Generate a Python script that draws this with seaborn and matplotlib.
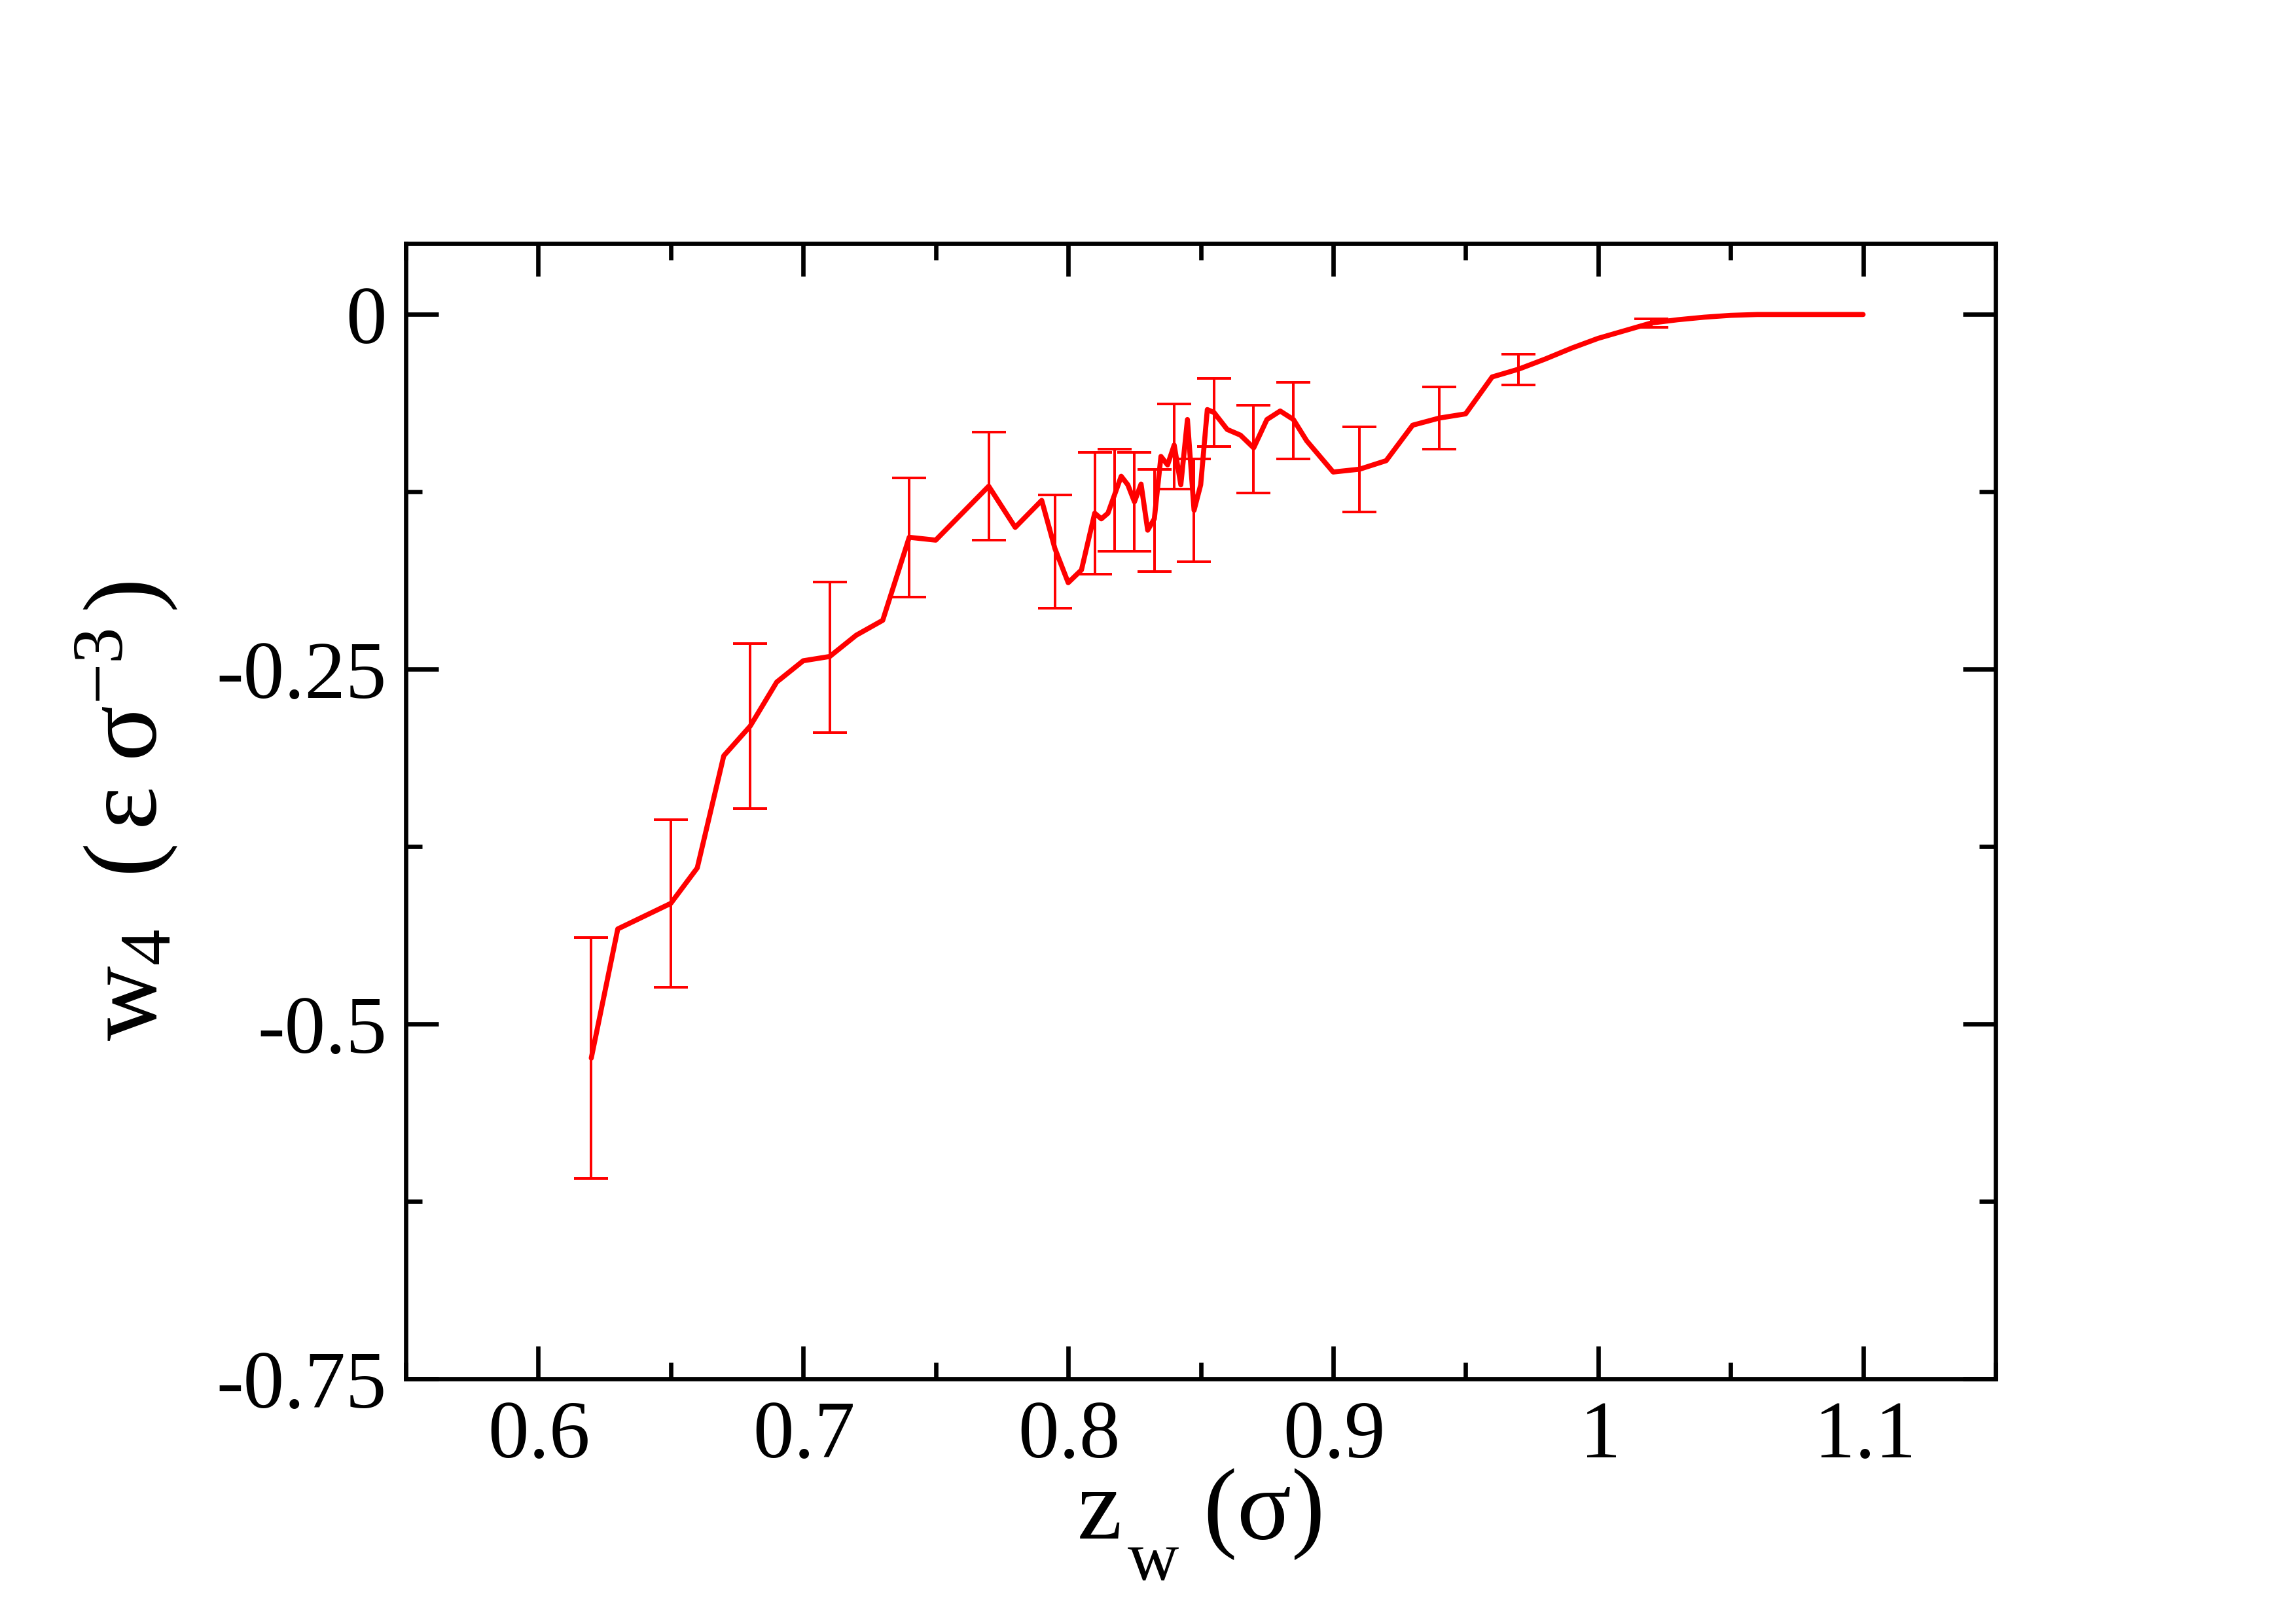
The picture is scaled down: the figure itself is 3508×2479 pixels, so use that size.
import numpy as np
import pandas as pd
import matplotlib
matplotlib.use("Agg")
import matplotlib.pyplot as plt
from matplotlib.ticker import MultipleLocator, FixedLocator
import seaborn as sns

# ---- data ----
z_line = [0.62, 0.63, 0.65, 0.66, 0.67, 0.68, 0.69, 0.70, 0.71, 0.72, 0.73,
          0.74, 0.75, 0.76, 0.77, 0.78, 0.79, 0.795, 0.80, 0.805, 0.81, 0.8125,
          0.815, 0.82, 0.8225, 0.825, 0.8275, 0.83, 0.8325, 0.835, 0.8375, 0.84,
          0.8425, 0.845, 0.8475, 0.85, 0.8525, 0.855, 0.86, 0.865, 0.87, 0.875,
          0.88, 0.885, 0.89, 0.90, 0.91, 0.92, 0.93, 0.94, 0.95, 0.96, 0.97,
          0.98, 0.99, 1.00, 1.01, 1.02, 1.03, 1.04, 1.05, 1.06, 1.07, 1.08,
          1.09, 1.10]
w_line = [-0.524, -0.433, -0.415, -0.390, -0.311, -0.290, -0.259, -0.244,
          -0.241, -0.226, -0.2155, -0.157, -0.159, -0.140, -0.121, -0.150,
          -0.131, -0.165, -0.189, -0.180, -0.140, -0.144, -0.140, -0.114,
          -0.120, -0.132, -0.1195, -0.152, -0.144, -0.100, -0.106, -0.092,
          -0.120, -0.074, -0.138, -0.120, -0.067, -0.069, -0.081, -0.085,
          -0.094, -0.074, -0.068, -0.074, -0.089, -0.111, -0.109, -0.103,
          -0.078, -0.073, -0.070, -0.044, -0.0385, -0.0314, -0.0237, -0.0168,
          -0.0114, -0.0060, -0.0037, -0.0019, -0.0006, 0.0, 0.0, 0.0, 0.0, 0.0]

z_err = [0.62, 0.65, 0.68, 0.71, 0.74, 0.77, 0.795, 0.81, 0.8175, 0.825,
         0.8325, 0.84, 0.8475, 0.855, 0.87, 0.885, 0.91, 0.94, 0.97, 1.02]
w_err = [-0.524, -0.415, -0.290, -0.2415, -0.157, -0.121, -0.167, -0.140,
         -0.131, -0.132, -0.145, -0.093, -0.138, -0.069, -0.095, -0.075,
         -0.109, -0.073, -0.0388, -0.006]
dw_err = [0.085, 0.059, 0.058, 0.053, 0.042, 0.038, 0.040, 0.043, 0.036,
          0.035, 0.036, 0.030, 0.036, 0.024, 0.031, 0.027, 0.030, 0.022,
          0.011, 0.003]

x_ticks = [0.6, 0.7, 0.8, 0.9, 1.0, 1.1]
x_ticklabels = ["0.6", "0.7", "0.8", "0.9", "1", "1.1"]
y_ticks = [0.0, -0.25, -0.5, -0.75]
y_ticklabels = ["0", "-0.25", "-0.5", "-0.75"]

# ---- style ----
sns.set_style("ticks")
plt.rcParams["font.family"] = ["Liberation Serif", "DejaVu Serif"]
plt.rcParams["mathtext.fontset"] = "custom"
plt.rcParams["mathtext.rm"] = "Liberation Serif"
plt.rcParams["mathtext.it"] = "Liberation Serif:italic"
plt.rcParams["axes.unicode_minus"] = False
for k in ["text.color", "axes.labelcolor", "xtick.color", "ytick.color",
          "axes.edgecolor"]:
    plt.rcParams[k] = "black"


def mreg(s):
    # render through mathtext so the text box hugs the glyphs
    return r"$\mathregular{" + s + "}$"


W, H = 3508, 2479
fig = plt.figure(figsize=(W / 300, H / 300), dpi=300)
ax = fig.add_axes([620 / W, 1 - 2106 / H, (3049 - 620) / W, (2106 - 372) / H])

df = pd.DataFrame({"z": z_line, "w": w_line})
sns.lineplot(data=df, x="z", y="w", ax=ax, color="#ff0000", linewidth=1.85,
             sort=False, estimator=None)
ax.errorbar(z_err, w_err, yerr=dw_err, fmt="none", ecolor="#ff0000",
            elinewidth=0.95, capsize=6.3, capthick=0.95, zorder=3)

ax.set_xlim(0.55, 1.15)
ax.set_ylim(-0.75, 0.05)
ax.xaxis.set_major_locator(FixedLocator(x_ticks))
ax.set_xticklabels([mreg(t) for t in x_ticklabels])
ax.xaxis.set_minor_locator(MultipleLocator(0.05))
ax.yaxis.set_major_locator(FixedLocator(y_ticks))
ax.set_yticklabels(y_ticklabels)
ax.yaxis.set_minor_locator(MultipleLocator(0.125))

for s in ax.spines.values():
    s.set_visible(True)
    s.set_linewidth(1.6)
    s.set_color("black")

ax.tick_params(which="both", direction="in", top=True, right=True,
               color="black", labelcolor="black", width=1.6)
ax.tick_params(which="major", length=12, labelsize=30)
ax.tick_params(which="minor", length=6)
ax.tick_params(axis="x", which="major", pad=8)
ax.tick_params(axis="y", which="major", pad=7)

ax.set_xlabel("")
ax.set_ylabel("")

# x-axis title  z_w (σ)  assembled from pieces (figure pixel positions)
fig.text(1645 / W, 1 - 2350 / H, mreg("z"), fontsize=37, ha="left", va="baseline")
fig.text(1722 / W, 1 - 2413 / H, mreg("w"), fontsize=26, ha="left", va="baseline")
fig.text(1838 / W, 1 - 2350 / H, mreg("(σ)"), fontsize=37, ha="left", va="baseline")

# y-axis title  w_4 (ε σ^-3)
ylab = mreg(r"w_{4}\ \ (\,ε\ σ^{-3}\,)")
fig.text(275 / W, 0.5 * ((1 - 2106 / H) + (1 - 372 / H)), ylab, fontsize=38,
         rotation=90, rotation_mode="anchor", ha="center", va="bottom")
ax.grid(False)

fig.savefig("out.png", dpi=300, facecolor="white")
